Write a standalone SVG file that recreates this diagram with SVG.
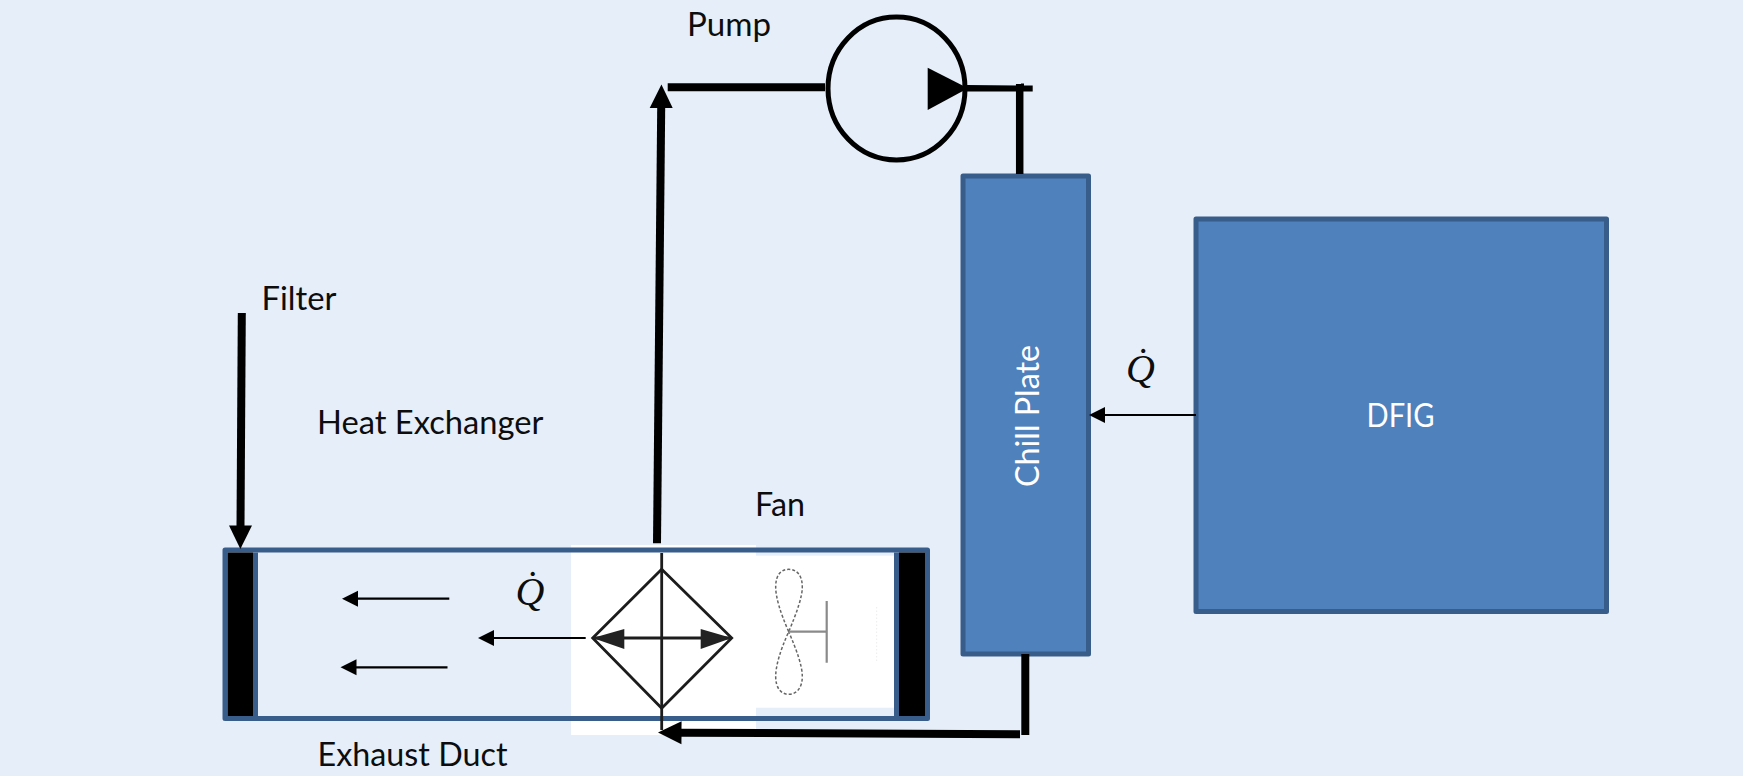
<svg xmlns="http://www.w3.org/2000/svg" width="1743" height="776" viewBox="0 0 1743 776">
<defs>
<style>
.lab{font-family:"Lato","Open Sans",sans-serif;font-size:33px;fill:#0d0d0d}
.wht{font-family:"Lato","Open Sans",sans-serif;font-size:33px;fill:#fff}
.q{font-family:"Liberation Serif",serif;font-style:italic;font-size:40px;fill:#0d0d0d}
.box{fill:#4F81BD;stroke:#385D8A;stroke-width:5;stroke-linejoin:round}
.pipe{fill:none;stroke:#000;stroke-width:8}
.heat{fill:none;stroke:#000;stroke-width:2.2}
.sym{fill:none;stroke:#1c1c1c;stroke-width:2.8}
.fan{fill:none;stroke:#666;stroke-width:1.5;stroke-dasharray:3 2}
.gray{fill:none;stroke:#8a8a8a;stroke-width:2.2}
</style>
<marker id="thick" markerUnits="userSpaceOnUse" markerWidth="24" markerHeight="24" refX="0.5" refY="12" orient="auto" overflow="visible"><path d="M0 0.5L23.500 12L0 23.500Z" fill="#000"/></marker>
<marker id="thin" markerUnits="userSpaceOnUse" markerWidth="17" markerHeight="17" refX="1" refY="8" orient="auto" overflow="visible"><path d="M0 0L16 8L0 16Z" fill="#000"/></marker>
</defs>
<rect width="1743" height="776" fill="#E6EFF9"/>
<g id="heat-exchanger-bg"><rect x="571" y="545" width="185" height="190" fill="#fff"/></g>
<g id="fan-bg"><rect x="756" y="555.700" width="138" height="152" fill="#fff"/></g>
<g id="exhaust-duct">
<rect x="225" y="550" width="702.500" height="168.500" fill="none" stroke="#385D8A" stroke-width="5" stroke-linejoin="round"/>
<rect x="227.500" y="552.500" width="25.500" height="163.500" fill="#000"/>
<rect x="253" y="552.500" width="5" height="163.500" fill="#385D8A"/>
<rect x="899" y="552.500" width="26" height="163.500" fill="#000"/>
<rect x="894" y="552.500" width="5" height="163.500" fill="#385D8A"/>
<text class="lab" x="317.500" y="765.500" textLength="190" lengthAdjust="spacingAndGlyphs">Exhaust Duct</text>
</g>
<g id="heat-exchanger">
<path class="sym" d="M661.700 569.300L731.700 638L661.700 708.300L592.700 638Z"/>
<path class="sym" d="M661.700 553V730M594 638H730"/>
<path d="M592.700 638L624.300 629L624.300 649Z" fill="#222"/>
<path d="M731.700 638L700.700 629L700.700 649Z" fill="#222"/>
<text class="lab" x="317" y="434" textLength="226.500" lengthAdjust="spacingAndGlyphs">Heat Exchanger</text>
</g>
<g id="fan">
<path class="fan" d="M788.700 631.700C780 612 775.700 597 775.700 587C775.700 575 781 569.300 788.700 569.300C796.500 569.300 802.300 575 802.300 587C802.300 597 797 612 788.700 631.700C780 651 775.700 666 775.700 676.500C775.700 688 781 694.300 788.700 694.300C796.500 694.300 802.300 688 802.300 676.500C802.300 666 797 651 788.700 631.700Z"/>
<path class="gray" d="M788.700 631.700H826.700M826.700 601V662.700"/>
<path d="M876.700 607V662" fill="none" stroke="#ececec" stroke-width="1" stroke-dasharray="1.500 2"/>
<text class="lab" x="755" y="515.500" textLength="50" lengthAdjust="spacingAndGlyphs">Fan</text>
</g>
<g id="pump">
<ellipse cx="896.500" cy="88.500" rx="68.500" ry="71.500" fill="none" stroke="#000" stroke-width="5"/>
<path d="M927.700 67.700L968 88.300L927.700 110Z" fill="#000"/>
<text class="lab" x="687" y="35.500" textLength="84" lengthAdjust="spacingAndGlyphs">Pump</text>
</g>
<g id="chill-plate">
<rect class="box" x="963" y="176" width="125.500" height="478"/>
<text class="wht" transform="translate(1039 487) rotate(-90)" x="0" y="0" textLength="142" lengthAdjust="spacingAndGlyphs">Chill Plate</text>
</g>
<g id="dfig">
<rect class="box" x="1196" y="219" width="410.500" height="392.500"/>
<text class="wht" x="1366.500" y="427" textLength="68" lengthAdjust="spacingAndGlyphs">DFIG</text>
</g>
<g id="filter">
<text class="lab" x="261.500" y="310" textLength="75" lengthAdjust="spacingAndGlyphs">Filter</text>
</g>
<g id="heat-labels">
<text class="q" x="515.500" y="604.500">Q̇</text>
<text class="q" x="1126" y="382">Q̇</text>
</g>
<g id="connectors">
<path class="pipe" d="M241.800 313L240.500 526" marker-end="url(#thick)"/>
<path class="pipe" d="M657 543.300L661.200 107.500" marker-end="url(#thick)"/>
<path class="pipe" d="M667.700 87.300H825"/>
<path d="M966 85L1021 85.500L1021 83.500H1024V85.500L1032.700 85.500V91.500L966 91.500Z" fill="#000"/>
<path d="M1019.700 84V174" fill="none" stroke="#000" stroke-width="7.500"/>
<path d="M1025.300 654V735" fill="none" stroke="#000" stroke-width="8"/>
<path class="pipe" d="M1020 734.300L681 732.700" marker-end="url(#thick)"/>
<path class="heat" d="M449.300 598.700H357" marker-end="url(#thin)"/>
<path class="heat" d="M447.500 667.300H355.500" marker-end="url(#thin)"/>
<path class="heat" d="M585.700 638H493" marker-end="url(#thin)"/>
<path class="heat" d="M1196 415H1104" marker-end="url(#thin)"/>
</g>
</svg>
